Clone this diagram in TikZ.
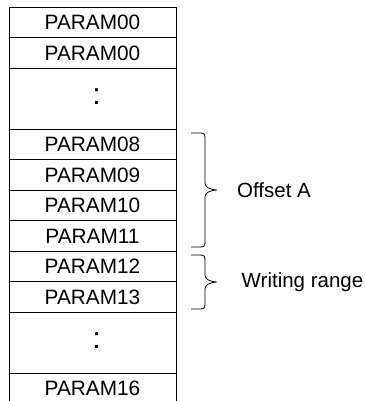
\documentclass[tikz,border=0pt]{standalone}
\usepackage{fontspec}
\setmainfont{Liberation Sans}

\tikzset{
    cell/.style={draw, line width=0.8pt, minimum width=167pt, minimum height=30.6pt,
        inner sep=0pt, outer sep=0pt, text height=14.3pt, text depth=0pt,
        font=\fontsize{20.8}{24}\selectfont},
    gapcell/.style={cell, minimum height=61pt, text height=12pt,
        font=\fontsize{30}{34}\selectfont},
    bracepath/.style={line width=0.8pt},
    side/.style={anchor=west, inner sep=0pt, font=\fontsize{20.5}{24}\selectfont}
}

\begin{document}
\begin{tikzpicture}[x=1pt, y=-1pt]
        \clip (0,0) rectangle (365,401);

        % registers
        \node[cell] (p00a) at (92.5,22.5) {PARAM00};
        \node[cell] (p00b) at (92.5,53) {PARAM00};
        \node[gapcell] (gapA) at (92.5,98.5) {\hspace*{8pt}:};
        \node[cell] (p08) at (92.5,144.5) {PARAM08};
        \node[cell] (p09) at (92.5,175) {PARAM09};
        \node[cell] (p10) at (92.5,205.5) {PARAM10};
        \node[cell] (p11) at (92.5,236) {PARAM11};
        \node[cell] (p12) at (92.5,266.5) {PARAM12};
        \node[cell] (p13) at (92.5,297) {PARAM13};
        \node[gapcell] (gapB) at (92.5,342.5) {\hspace*{8pt}:};
        \node[cell] (p16) at (92.5,388.5) {PARAM16};

        % Klammer fuer Offset A
        \coordinate (oaTop) at (191,133);
        \coordinate (oaTip) at (217,190);
        \coordinate (oaBot) at (191,247);
        \draw[bracepath] (oaTop) -- ++(9,0) .. controls +(4,0) and +(0,-4) .. ++(5,5)
            -- (205,183) .. controls (205,187) and (209,189.5) .. (oaTip)
            .. controls (209,190.5) and (205,193) .. (205,197)
            -- (205,242) .. controls +(0,4) and +(4,0) .. ++(-5,5) -- (oaBot);
        \node[side] (offA) at (237,190) {Offset A};

        % Klammer fuer Writing range
        \coordinate (wrTop) at (191,255);
        \coordinate (wrTip) at (217,282);
        \coordinate (wrBot) at (191,309);
        \draw[bracepath] (wrTop) -- ++(9,0) .. controls +(4,0) and +(0,-4) .. ++(5,5)
            -- (205,275) .. controls (205,279) and (209,281.5) .. (wrTip)
            .. controls (209,282.5) and (205,285) .. (205,289)
            -- (205,304) .. controls +(0,4) and +(4,0) .. ++(-5,5) -- (wrBot);
        \node[side] (wrRange) at (241.5,282) {Writing range};
    \end{tikzpicture}
\end{document}
